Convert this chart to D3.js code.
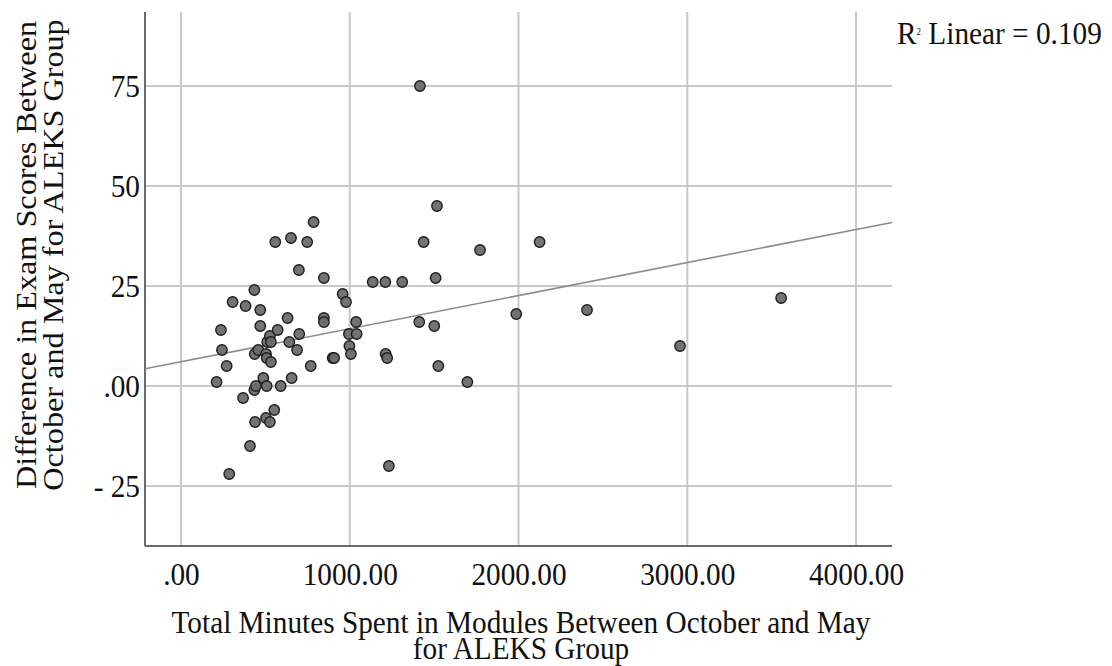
<!DOCTYPE html>
<html><head><meta charset="utf-8">
<script src="https://cdn.jsdelivr.net/npm/d3@7"></script>
<style>html,body{margin:0;padding:0;background:#fff;}svg{display:block;}</style>
</head><body>
<svg id="c" width="1112" height="666"></svg>
<script>
const minutes = [211,237,243,271,286,306,368,383,409,435,435,437,439,444,458,470,470,488,504,504,508,508,511,527,527,533,533,553,559,573,591,632,642,652,656,688,699,701,748,769,786,847,847,847,899,908,958,978,995,998,1007,1038,1041,1136,1211,1213,1222,1232,1311,1412,1416,1438,1501,1509,1517,1525,1697,1772,1987,2125,2406,2957,3556];
const diffs   = [1,14,9,5,-22,21,-3,20,-15,24,-1,8,-9,0,9,19,15,2,8,-8,7,0,11,12.5,-9,11,6,-6,36,14,0,17,11,37,2,9,29,13,36,5,41,27,17,16,7,7,23,21,13,10,8,16,13,26,26,8,7,-20,26,16,75,36,15,27,45,5,1,34,18,36,19,10,22];
const xTicks = [0,1000,2000,3000,4000];
const xTickLabels = [".00","1000.00","2000.00","3000.00","4000.00"];
const yTicks = [-25,0,25,50,75];
const yTickLabels = ["- 25",".00","25","50","75"];
const rSquaredLabel = "0.109";

const svg = d3.select("#c");
const L=145, R=892, T=12, B=546;
const x = d3.scaleLinear().domain([-213,4213]).range([L,R]);
const y = d3.scaleLinear().domain([-40,93.5]).range([B,T]);
const font = "'Liberation Serif','Times New Roman',serif";
const FS = 29.3, VS = 1.1;

// gridlines
svg.append("g").selectAll("line").data(xTicks).join("line")
  .attr("x1",d=>x(d)).attr("x2",d=>x(d)).attr("y1",T).attr("y2",B)
  .attr("stroke","#c8c8c8").attr("stroke-width",2);
svg.append("g").selectAll("line").data(yTicks).join("line")
  .attr("x1",L).attr("x2",R).attr("y1",d=>y(d)).attr("y2",d=>y(d))
  .attr("stroke","#c8c8c8").attr("stroke-width",2);

// axes
const xAxis = d3.axisBottom(x).tickValues(xTicks).tickSize(0).tickFormat((d,i)=>xTickLabels[i]);
const gx = svg.append("g").attr("transform",`translate(0,${B})`).call(xAxis);
gx.select(".domain").attr("stroke","#6a6a6a").attr("stroke-width",2).attr("d",`M${L},0H${R}`);
gx.selectAll("text").attr("font-family",font).attr("font-size",FS).attr("fill","#111")
  .attr("dy","0").attr("y",0).attr("transform",`translate(0,39) scale(1,${VS})`);

const yAxis = d3.axisLeft(y).tickValues(yTicks).tickSize(0).tickFormat((d,i)=>yTickLabels[i]);
const gy = svg.append("g").attr("transform",`translate(${L},0)`).call(yAxis);
gy.select(".domain").attr("stroke","#6a6a6a").attr("stroke-width",2).attr("d",`M0,${T}V${B}`);
gy.selectAll("text").attr("font-family",font).attr("font-size",FS).attr("fill","#111")
  .attr("x",-5).attr("dy","0.34em").attr("transform",`scale(1,${VS})`);

// regression line fitted to the data
const n = minutes.length;
const mx = d3.mean(minutes), my = d3.mean(diffs);
let sxy=0, sxx=0;
for(let i=0;i<n;i++){sxy+=(minutes[i]-mx)*(diffs[i]-my); sxx+=(minutes[i]-mx)**2;}
const slope = sxy/sxx, intercept = my - slope*mx;
const xd = x.domain();
svg.append("line")
  .attr("x1",x(xd[0])).attr("y1",y(intercept+slope*xd[0]))
  .attr("x2",x(xd[1])).attr("y2",y(intercept+slope*xd[1]))
  .attr("stroke","#8c8c8c").attr("stroke-width",1.6);

// points
svg.append("g").selectAll("circle").data(minutes.map((m,i)=>[m,diffs[i]])).join("circle")
  .attr("cx",d=>x(d[0])).attr("cy",d=>y(d[1])).attr("r",5.2)
  .attr("fill","#6b6b6b").attr("stroke","#1e1e1e").attr("stroke-width",1.4).attr("fill-opacity",0.95);

// R2 label
const rt = svg.append("text").attr("transform",`translate(897,44) scale(1,${VS})`)
  .attr("font-family",font).attr("font-size",FS).attr("fill","#111");
rt.append("tspan").text("R");
rt.append("tspan").attr("font-size",9).attr("dy",-8).text("2");
rt.append("tspan").attr("dy",8).text(" Linear = " + rSquaredLabel);

// titles
const xt1 = svg.append("text").attr("text-anchor","middle").attr("font-family",font).attr("font-size",FS).attr("fill","#111")
  .attr("transform",`translate(521,633) scale(1,${VS})`).text("Total Minutes Spent in Modules Between October and May");
const xt2 = svg.append("text").attr("text-anchor","middle").attr("font-family",font).attr("font-size",FS).attr("fill","#111")
  .attr("transform",`translate(521,659) scale(1,${VS})`).text("for ALEKS Group");

const yt1 = svg.append("text").attr("text-anchor","middle").attr("font-family",font).attr("font-size",FS).attr("fill","#111")
  .attr("transform",`translate(36,255) rotate(-90) scale(${VS},1)`).text("Difference in Exam Scores Between");
const yt2 = svg.append("text").attr("text-anchor","middle").attr("font-family",font).attr("font-size",FS).attr("fill","#111")
  .attr("transform",`translate(63,255) rotate(-90) scale(${VS},1)`).text("October and May for ALEKS Group");
</script>
</body></html>
